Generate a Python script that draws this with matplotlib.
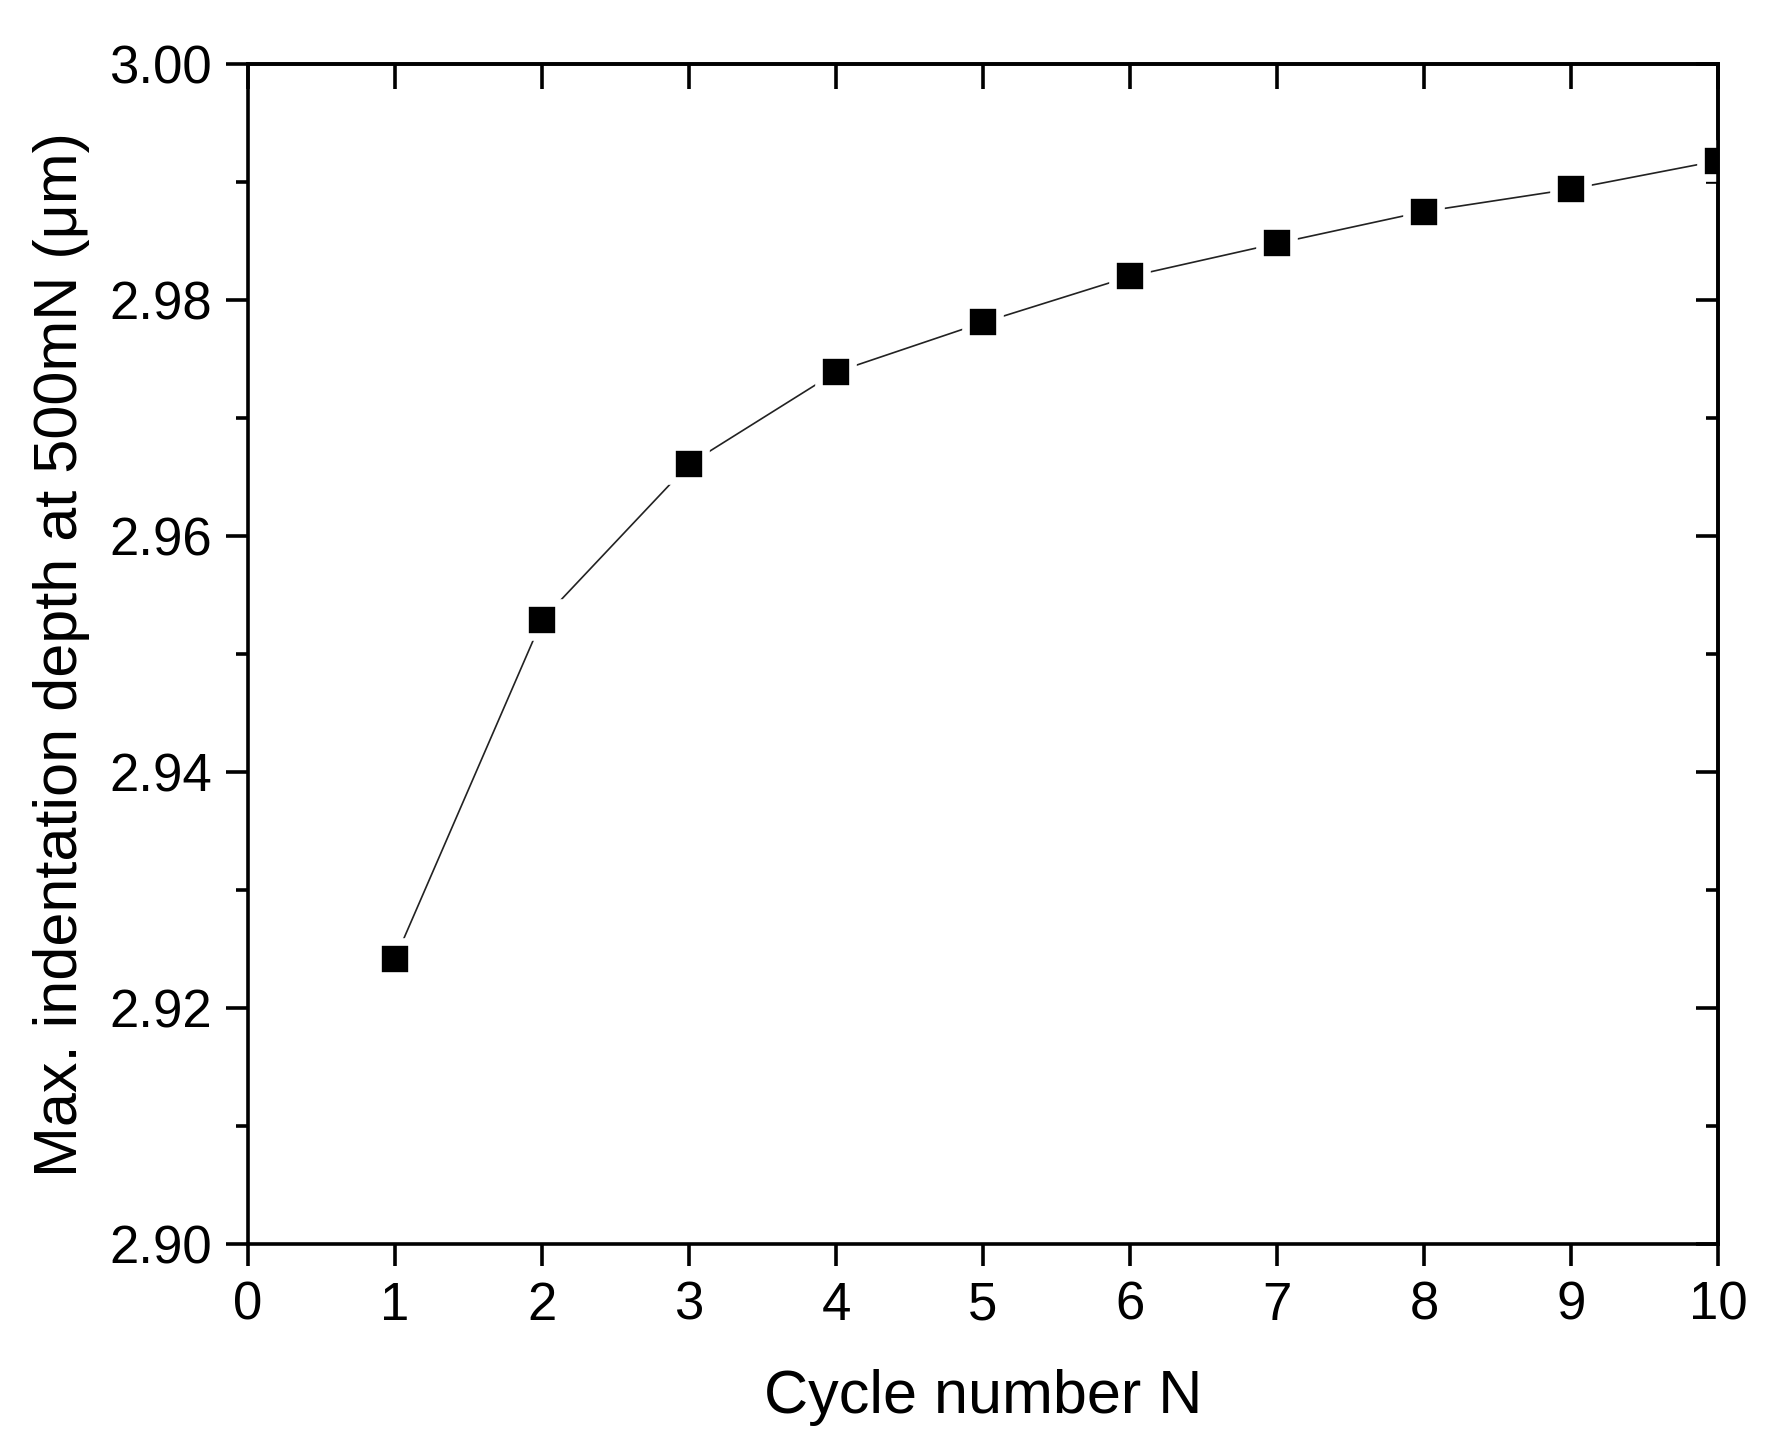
import numpy as np
import matplotlib
matplotlib.use('Agg')
import matplotlib.pyplot as plt
from matplotlib.ticker import MultipleLocator

# data
cycle = [1, 2, 3, 4, 5, 6, 7, 8, 9, 10]
depth = [2.9242, 2.9529, 2.9661, 2.9739, 2.9781, 2.9820, 2.9848, 2.9875, 2.9894, 2.9918]

x_ticks = [0, 1, 2, 3, 4, 5, 6, 7, 8, 9, 10]
y_ticks = [2.90, 2.92, 2.94, 2.96, 2.98, 3.00]

plt.rcParams['font.family'] = ['Liberation Sans', 'DejaVu Sans']

fig = plt.figure(figsize=(17.68, 14.47), dpi=100)
ax = fig.add_axes([0.1403, 0.140, 0.9717 - 0.1403, 0.9558 - 0.140])

# thin line with gaps round the markers (white edge), then black squares
ax.plot(cycle, depth, color='#222222', lw=1.2, zorder=2)
ax.plot(cycle, depth, ls='none', marker='s', markersize=24,
        markerfacecolor='black', markeredgecolor='white',
        markeredgewidth=5.5, zorder=3)

ax.set_xlim(0, 10)
ax.set_ylim(2.90, 3.00)
ax.set_xticks(x_ticks)
ax.set_xticklabels([str(t) for t in x_ticks])
ax.set_yticks(y_ticks)
ax.set_yticklabels([f'{t:.2f}' for t in y_ticks])
ax.yaxis.set_minor_locator(MultipleLocator(0.01))

for s in ax.spines.values():
    s.set_linewidth(2.6)
    s.set_zorder(4)

ax.tick_params(axis='both', which='major', length=16, width=2.6,
               labelsize=38, pad=10, direction='out')
ax.tick_params(axis='y', which='minor', length=8.5, width=2.6, direction='out')

# mirrored ticks pointing inward on top and right
secx = ax.secondary_xaxis('top')
secx.set_xticks(x_ticks)
secx.tick_params(length=18, width=2.6, direction='in', labeltop=False)
secx.set_xticklabels([])
secy = ax.secondary_yaxis('right')
secy.set_yticks(y_ticks)
secy.yaxis.set_minor_locator(MultipleLocator(0.01))
secy.tick_params(which='major', length=16, width=2.6, direction='in')
secy.tick_params(which='minor', length=8.5, width=2.6, direction='in')
secy.set_yticklabels([])
for s in list(secx.spines.values()) + list(secy.spines.values()):
    s.set_linewidth(2.6)

ax.set_xlabel('Cycle number N', fontsize=44, labelpad=28)
ax.set_ylabel('Max. indentation depth at 500mN (\u03bcm)', fontsize=44, labelpad=14)

fig.savefig('out.png', dpi=100, facecolor='white')
